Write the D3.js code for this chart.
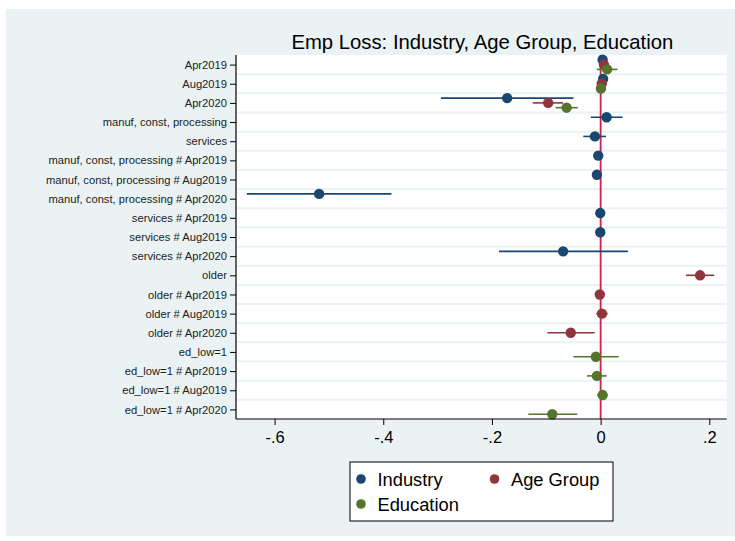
<!DOCTYPE html>
<html>
<head>
<meta charset="utf-8">
<script src="https://cdn.jsdelivr.net/npm/d3@7"></script>
<style>
  html, body { margin: 0; padding: 0; background: #ffffff; }
  svg { display: block; }
  text { font-family: "Liberation Sans", Arial, Helvetica, sans-serif; }
</style>
</head>
<body>
<svg id="chart" width="735" height="541"></svg>
<script>
// ---- Data ----
const categories = [
  "Apr2019", "Aug2019", "Apr2020",
  "manuf, const, processing", "services",
  "manuf, const, processing # Apr2019",
  "manuf, const, processing # Aug2019",
  "manuf, const, processing # Apr2020",
  "services # Apr2019", "services # Aug2019", "services # Apr2020",
  "older", "older # Apr2019", "older # Aug2019", "older # Apr2020",
  "ed_low=1", "ed_low=1 # Apr2019", "ed_low=1 # Aug2019", "ed_low=1 # Apr2020"
];

const seriesNames = ["Industry", "Age Group", "Education"];

// [category, estimate, ci low, ci high]
const industry = [
  ["Apr2019", 0.0037, 0.000, 0.007],
  ["Aug2019", 0.0045, 0.001, 0.008],
  ["Apr2020", -0.172, -0.294, -0.050],
  ["manuf, const, processing", 0.011, -0.018, 0.0405],
  ["services", -0.0105, -0.032, 0.0098],
  ["manuf, const, processing # Apr2019", -0.0044, -0.006, -0.003],
  ["manuf, const, processing # Aug2019", -0.0068, -0.009, -0.005],
  ["manuf, const, processing # Apr2020", -0.518, -0.651, -0.385],
  ["services # Apr2019", -0.0007, -0.002, 0.001],
  ["services # Aug2019", -0.0007, -0.002, 0.001],
  ["services # Apr2020", -0.069, -0.187, 0.050]
];

const ageGroup = [
  ["Apr2019", 0.006, 0.002, 0.010],
  ["Aug2019", 0.002, -0.002, 0.006],
  ["Apr2020", -0.0965, -0.125, -0.069],
  ["older", 0.183, 0.157, 0.209],
  ["older # Apr2019", -0.0015, -0.003, 0.000],
  ["older # Aug2019", 0.0025, -0.008, 0.013],
  ["older # Apr2020", -0.055, -0.098, -0.011]
];

const education = [
  ["Apr2019", 0.012, -0.007, 0.031],
  ["Aug2019", 0.0005, -0.007, 0.009],
  ["Apr2020", -0.0626, -0.083, -0.042],
  ["ed_low=1", -0.0087, -0.050, 0.033],
  ["ed_low=1 # Apr2019", -0.0068, -0.025, 0.011],
  ["ed_low=1 # Aug2019", 0.0037, -0.006, 0.013],
  ["ed_low=1 # Apr2020", -0.089, -0.133, -0.043]
];

const xTicks = [-0.6, -0.4, -0.2, 0, 0.2];
const xTickLabels = ["-.6", "-.4", "-.2", "0", ".2"];
const titleText = "Emp Loss: Industry, Age Group, Education";

// ---- Layout / styles ----
const colors = ["#1a476f", "#90353b", "#55752f"];
const offsets = [-0.25, 0, 0.25];
const bg = "#eaf2f3";

const svg = d3.select("#chart");

svg.append("rect").attr("x", 6).attr("y", 9).attr("width", 735 - 6).attr("height", 536 - 9)
  .attr("fill", bg);

const plotL = 236, plotR = 726.7, plotT = 55, plotB = 419;

svg.append("rect").attr("x", plotL).attr("y", plotT)
  .attr("width", plotR - plotL).attr("height", plotB - plotT).attr("fill", "#ffffff");

const x = d3.scaleLinear().domain([-0.671, 0.232]).range([plotL, plotR]);
const y = d3.scaleLinear().domain([-0.5, categories.length - 0.5]).range([plotT, plotB]);
const idx = new Map(categories.map((c, i) => [c, i]));

// grid lines between rows
const g = svg.append("g");
g.selectAll("line.grid").data(d3.range(0, categories.length - 1))
  .join("line")
  .attr("x1", plotL).attr("x2", plotR)
  .attr("y1", d => y(d + 0.5)).attr("y2", d => y(d + 0.5))
  .attr("stroke", bg).attr("stroke-width", 2);

// zero line
svg.append("line")
  .attr("x1", x(0)).attr("x2", x(0))
  .attr("y1", plotT).attr("y2", plotB)
  .attr("stroke", "#d01f4a").attr("stroke-width", 1.8);

// series
const allSeries = [industry, ageGroup, education];
allSeries.forEach((data, si) => {
  const sg = svg.append("g");
  sg.selectAll("line.ci").data(data).join("line")
    .attr("x1", d => x(d[2])).attr("x2", d => x(d[3]))
    .attr("y1", d => y(idx.get(d[0]) + offsets[si]))
    .attr("y2", d => y(idx.get(d[0]) + offsets[si]))
    .attr("stroke", colors[si]).attr("stroke-width", 1.6);
  sg.selectAll("circle").data(data).join("circle")
    .attr("cx", d => x(d[1]))
    .attr("cy", d => y(idx.get(d[0]) + offsets[si]))
    .attr("r", 5.2)
    .attr("fill", colors[si]);
});

// y axis
const yAxis = d3.axisLeft(y).tickValues(d3.range(categories.length))
  .tickFormat(i => categories[i]).tickSize(6).tickPadding(3);
const ya = svg.append("g").attr("transform", `translate(${plotL},0)`).call(yAxis);
ya.select(".domain").attr("d", `M0,${plotT}V${plotB}`).attr("stroke", "#000").attr("stroke-width", 1.2);
ya.selectAll(".tick line").attr("stroke", "#000").attr("stroke-width", 1);
ya.selectAll(".tick text").attr("font-size", 11.2).attr("fill", "#222")
  .attr("font-family", "'Liberation Sans', Arial, sans-serif");

// x axis
const xAxis = d3.axisBottom(x).tickValues(xTicks)
  .tickFormat((d, i) => xTickLabels[i]).tickSize(6).tickPadding(6);
const xa = svg.append("g").attr("transform", `translate(0,${plotB})`).call(xAxis);
xa.select(".domain").attr("d", `M${plotL},0H${plotR}`).attr("stroke", "#000").attr("stroke-width", 1.2);
xa.selectAll(".tick line").attr("stroke", "#000").attr("stroke-width", 1);
xa.selectAll(".tick text").attr("font-size", 16.5).attr("fill", "#000")
  .attr("font-family", "'Liberation Sans', Arial, sans-serif");

// title
svg.append("text").attr("x", (plotL + plotR) / 2 + 1).attr("y", 48.5)
  .attr("text-anchor", "middle").attr("font-size", 20.3).attr("fill", "#000")
  .text(titleText);

// legend
const lg = svg.append("g");
lg.append("rect").attr("x", 350).attr("y", 462).attr("width", 263).attr("height", 59)
  .attr("fill", "#fff").attr("stroke", "#000").attr("stroke-width", 1);
const legPos = [[361, 479], [494.5, 479], [361, 504]];
seriesNames.forEach((n, i) => {
  lg.append("circle").attr("cx", legPos[i][0]).attr("cy", legPos[i][1]).attr("r", 4.8)
    .attr("fill", colors[i]);
  lg.append("text").attr("x", legPos[i][0] + 16.5).attr("y", legPos[i][1] + 6.8)
    .attr("font-size", 18.3).attr("fill", "#000").text(n);
});
</script>
</body>
</html>
